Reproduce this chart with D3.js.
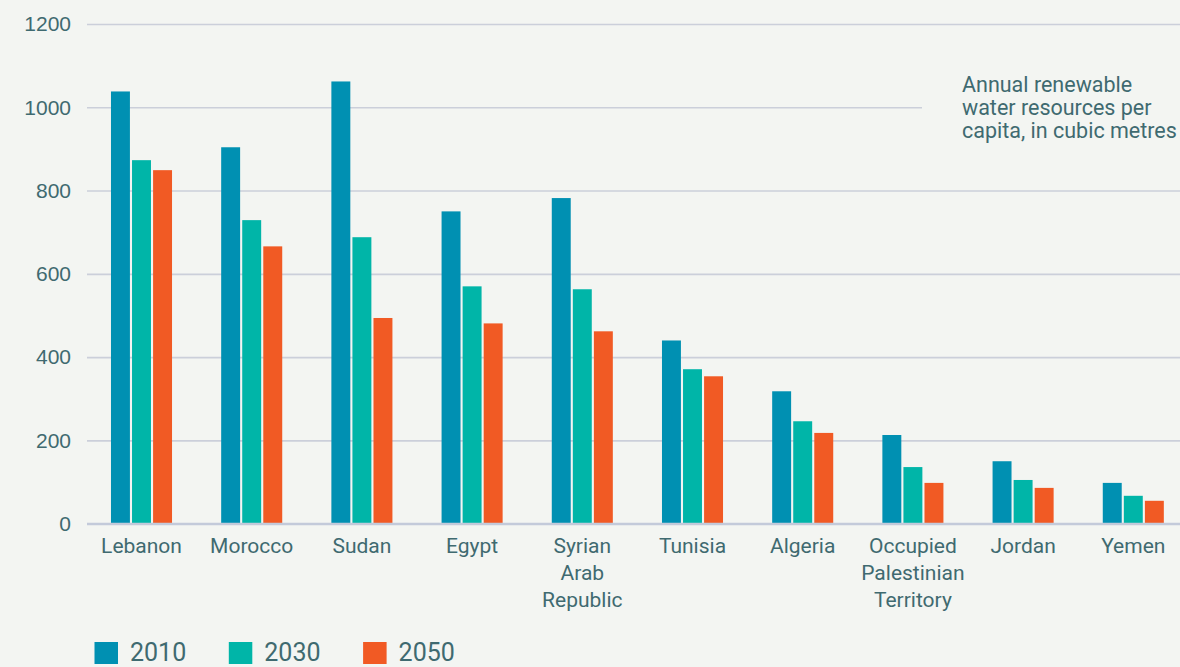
<!DOCTYPE html>
<html>
<head>
<meta charset="utf-8">
<script src="https://cdn.jsdelivr.net/npm/d3@7"></script>
<style>
  html, body { margin: 0; padding: 0; background: #f3f5f2; }
  svg { display: block; font-family: Roboto, "Noto Sans", sans-serif; }
  .tick-label, .cat-label, .legend-label, .note { fill: #3f6a70; }
</style>
</head>
<body>
<div id="chart"></div>
<script>
// values
const countries = [
  ["Lebanon"], ["Morocco"], ["Sudan"], ["Egypt"], ["Syrian", "Arab", "Republic"],
  ["Tunisia"], ["Algeria"], ["Occupied", "Palestinian", "Territory"], ["Jordan"], ["Yemen"]
];
const years = ["2010", "2030", "2050"];
const values2010 = [1038, 904, 1062, 750, 782, 440, 318, 213, 150, 98];
const values2030 = [873, 729, 688, 570, 563, 371, 246, 136, 105, 67];
const values2050 = [849, 666, 494, 481, 462, 354, 218, 98, 86, 55];
const yTicks = [0, 200, 400, 600, 800, 1000, 1200];
const noteLines = ["Annual renewable", "water resources per", "capita, in cubic metres"];

const colors = {"2010": "#0090b2", "2030": "#00b5a8", "2050": "#f15a24"};

const width = 1180, height = 667;
const margin = {top: 24, left: 87};
const plotBottom = 523.7;

const names = countries.map(d => d.join(" "));
const data = names.map((n, i) => ({
  name: n,
  lines: countries[i],
  vals: {"2010": values2010[i], "2030": values2030[i], "2050": values2050[i]}
}));

const svg = d3.select("#chart").append("svg")
    .attr("width", width)
    .attr("height", height);

svg.append("rect").attr("width", width).attr("height", height).attr("fill", "#f3f5f2");

const y = d3.scaleLinear()
    .domain([0, 1200])
    .range([plotBottom, margin.top]);

const x0 = d3.scaleBand()
    .domain(names)
    .range([86.4, 1188.4])
    .paddingInner(0.446)
    .paddingOuter(0.223);

const x1 = d3.scaleBand()
    .domain(years)
    .range([0, x0.bandwidth()])
    .paddingInner(0.1);

// gridlines + y labels
const yAxis = d3.axisLeft(y)
    .tickValues(yTicks)
    .tickSize(-(width - margin.left))
    .tickPadding(16)
    .tickFormat(d3.format("d"));

const yAxisG = svg.append("g")
    .attr("transform", `translate(${margin.left},0)`)
    .call(yAxis);

yAxisG.select(".domain").remove();
yAxisG.selectAll(".tick line")
    .attr("stroke", d => d === 0 ? "#c3cada" : "#cbcfda")
    .attr("stroke-width", d => d === 0 ? 2 : 1.6)
    // the 1000 line stops short of the note
    .attr("x2", d => d === 1000 ? 922 - margin.left : width - margin.left);
yAxisG.selectAll(".tick text")
    .attr("class", "tick-label")
    .attr("font-size", 21)
    .attr("x", -16);

// bars
const groups = svg.append("g")
  .selectAll("g")
  .data(data)
  .join("g")
    .attr("transform", d => `translate(${x0(d.name)},0)`);

groups.selectAll("rect")
  .data(d => years.map(yr => ({year: yr, value: d.vals[yr]})))
  .join("rect")
    .attr("x", d => x1(d.year))
    .attr("y", d => y(d.value))
    .attr("width", x1.bandwidth())
    .attr("height", d => plotBottom - y(d.value))
    .attr("fill", d => colors[d.year]);

// redraw baseline over bars
svg.append("line")
    .attr("x1", margin.left).attr("x2", width)
    .attr("y1", plotBottom).attr("y2", plotBottom)
    .attr("stroke", "#c3cada").attr("stroke-width", 2);

// category labels
const catLabels = svg.append("g")
  .selectAll("text")
  .data(data)
  .join("text")
    .attr("class", "cat-label")
    .attr("text-anchor", "middle")
    .attr("font-size", 21)
    .attr("x", d => x0(d.name) + x0.bandwidth() / 2)
    .attr("y", 553);

catLabels.selectAll("tspan")
  .data(d => d.lines)
  .join("tspan")
    .attr("x", function() { return d3.select(this.parentNode).attr("x"); })
    .attr("dy", (d, i) => i === 0 ? 0 : 27)
    .text(d => d);

// note
svg.append("text")
    .attr("class", "note")
    .attr("font-size", 21.5)
    .attr("x", 962)
    .attr("y", 91.5)
  .selectAll("tspan")
  .data(noteLines)
  .join("tspan")
    .attr("x", 962)
    .attr("dy", (d, i) => i === 0 ? 0 : 23)
    .text(d => d);

// legend
const legend = svg.append("g")
  .selectAll("g")
  .data(years)
  .join("g")
    .attr("transform", (d, i) => `translate(${94.5 + i * 134.3},642)`);

legend.append("rect")
    .attr("width", 23.5)
    .attr("height", 22)
    .attr("fill", d => colors[d]);

legend.append("text")
    .attr("class", "legend-label")
    .attr("x", 35.5)
    .attr("y", 19)
    .attr("font-size", 25)
    .text(d => d);
</script>
</body>
</html>
